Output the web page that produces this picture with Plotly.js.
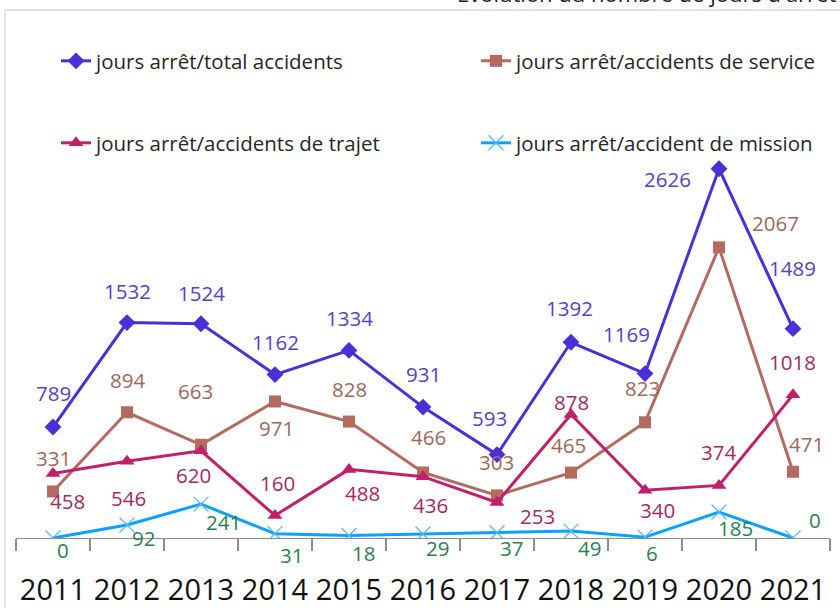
<!DOCTYPE html>
<html><head><meta charset="utf-8">
<script src="https://cdn.plot.ly/plotly-3.0.1.min.js"></script>
<style>html,body{margin:0;padding:0;background:#fff;}#chart{width:840px;height:608px;}</style>
</head><body><div id="chart"></div>
<script>
const years = ['2011','2012','2013','2014','2015','2016','2017','2018','2019','2020','2021'];
const totalAcc = [789,1532,1524,1162,1334,931,593,1392,1169,2626,1489];
const serviceAcc = [331,894,663,971,828,466,303,465,823,2067,471];
const trajetAcc = [458,546,620,160,488,436,253,878,340,374,1018];
const missionAcc = [0,92,241,31,18,29,37,49,6,185,0];

const names = ['jours arrêt/total accidents','jours arrêt/accidents de service','jours arrêt/accidents de trajet','jours arrêt/accident de mission'];

// label pixel offsets (dx right, dy down) relative to each point
const offTotal = [[0,-34],[0,-32],[0,-31],[0,-33],[0,-32],[0,-33],[-8,-37],[-2,-34],[-19,-40],[-52,10],[-1,-61]];
const offService = [[0,-33],[0,-32],[-6,-54],[1,27],[0,-33],[5,-35],[-1,-33],[-3,-28],[-3,-34],[56,-24],[13,-28]];
const offTrajet = [[14,27],[1,37],[-8,24],[2,-33],[13,24],[7,28],[40,14],[0,-13],[12,20],[-1,-33],[-1,-33]];
const offMission = [[10,12],[16,13],[22,18],[16,21],[14,18],[14,14],[14,15],[18,17],[7,16],[16,16],[22,-18]];

const lineCols = ['#4a30d8','#b46a5e','#c21f6a','#0ba2ff'];
const labelCols = ['#5542c6','#a0675b','#a32a62','#2a7f52'];

const FONT = 'Open Sans, Noto Sans, sans-serif';

const traces = [
  {x: years, y: totalAcc, name: names[0], type:'scatter', mode:'lines+markers', legend:'legend',
   line:{color:lineCols[0], width:3}, marker:{symbol:'diamond', size:13, color:lineCols[0]}},
  {x: years, y: serviceAcc, name: names[1], type:'scatter', mode:'lines+markers', legend:'legend2',
   line:{color:lineCols[1], width:3}, marker:{symbol:'square', size:12, color:lineCols[1]}},
  {x: years, y: trajetAcc, name: names[2], type:'scatter', mode:'lines+markers', legend:'legend3',
   line:{color:lineCols[2], width:3}, marker:{symbol:'triangle-up', size:13, color:lineCols[2]}},
  {x: years, y: missionAcc, name: names[3], type:'scatter', mode:'lines+markers', legend:'legend4',
   line:{color:lineCols[3], width:3}, marker:{symbol:'x-thin', size:15, line:{color:'#5ab8ff', width:1.3}, color:'#5ab8ff'}}
];

const annotations = [];
const series = [totalAcc, serviceAcc, trajetAcc, missionAcc];
const offs = [offTotal, offService, offTrajet, offMission];
series.forEach((vals, s) => {
  vals.forEach((v, i) => {
    annotations.push({x: i, y: v, xref:'x', yref:'y', text: String(v), showarrow:false,
      xshift: offs[s][i][0], yshift: -offs[s][i][1], font:{family:FONT, size:20.5, color:labelCols[s]}});
  });
});
annotations.push({xref:'paper', yref:'paper', x:(455-16)/814, y:1, xanchor:'left', yanchor:'bottom', yshift:0,
  text:"Évolution du nombre de jours d'arrêt par type d'accident", showarrow:false,
  font:{family:FONT, size:22, color:'#222'}});

function leg(px, py) {
  return {orientation:'h', x:(px-16)/814, xanchor:'left', y:(538-py)/528, yanchor:'middle',
    bgcolor:'rgba(0,0,0,0)', font:{family:FONT, size:20.5, color:'#262626'}};
}

const layout = {
  width:840, height:608,
  margin:{l:16, r:10, t:10, b:70},
  paper_bgcolor:'#fff', plot_bgcolor:'rgba(0,0,0,0)',
  font:{family:FONT},
  showlegend:true,
  legend: leg(56, 61),
  legend2: leg(476, 61),
  legend3: leg(56, 143),
  legend4: leg(476, 143),
  xaxis:{type:'category', range:[-0.5,10.5], showgrid:false, zeroline:false, showline:true, linecolor:'#8c8c8c', linewidth:1.3,
    ticks:'outside', tickson:'boundaries', ticklen:12, tickcolor:'#8c8c8c', tickwidth:1.3,
    tickangle:0, ticklabelstandoff:26,
    tickfont:{family:FONT, size:29, color:'#111'}, fixedrange:true},
  yaxis:{range:[0,3755], visible:false, showgrid:false, zeroline:false, fixedrange:true},
  annotations: annotations,
  shapes:[
    {type:'line', xref:'paper', yref:'paper', x0:(5-16)/814, x1:(5-16)/814, y0:1, y1:-0.2, line:{color:'#d9d9d9', width:1.3}},
    {type:'line', xref:'paper', yref:'paper', x0:(5-16)/814, x1:1.1, y0:1, y1:1, line:{color:'#d9d9d9', width:1.3}}
  ]
};

Plotly.newPlot('chart', traces, layout, {displayModeBar:false, staticPlot:true});
</script></body></html>
